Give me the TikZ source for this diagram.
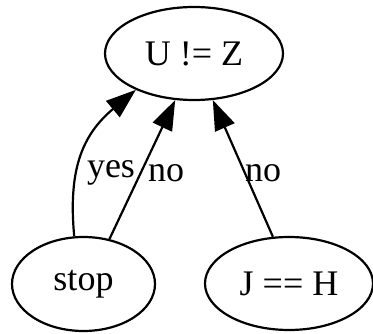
\documentclass[tikz,border=0pt]{standalone}
\usepackage{fontspec}
\setmainfont{Liberation Serif}
\usetikzlibrary{arrows.meta,shapes.geometric}
\begin{document}
\begin{tikzpicture}[x=1pt,y=1pt,
  nd/.style={ellipse,draw,line width=2.2pt,inner sep=0pt,font=\fontsize{36}{42}\selectfont},
  arr/.style={line width=2.2pt,-{Triangle[length=30pt,width=21pt]}},
  lbl/.style={font=\fontsize{36}{42}\selectfont,inner sep=0pt}]
\useasboundingbox (0,0) rectangle (373,-334);
\node[nd,minimum width=178pt,minimum height=93pt] (top) at (194,-53.5) {U != Z};
\node[nd,minimum width=143pt,minimum height=94pt] (stop) at (83.5,-284) {stop};
\node[nd,minimum width=168pt,minimum height=93pt] (jh) at (289,-283.5) {J == H};
\draw[arr] (stop.101) .. controls (68,-170) and (82,-135) .. (top.212);
\draw[arr] (stop.60) -- (top.248);
\draw[arr] (jh.109) -- (top.292);
\node[lbl] (l1) at (111,-173) {yes};
\node[lbl] (l2) at (166,-173) {no};
\node[lbl] (l3) at (263,-173) {no};
\end{tikzpicture}
\end{document}
